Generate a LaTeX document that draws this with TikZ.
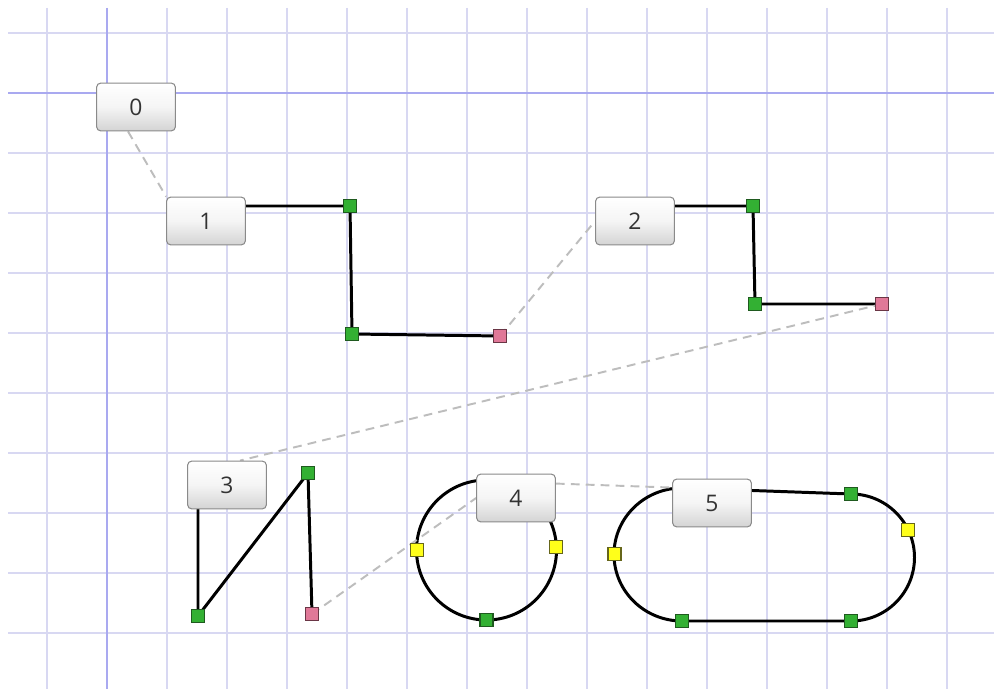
\documentclass[tikz,border=0pt]{standalone}
\usepackage{fontspec}
\setmainfont{Open Sans}
\usetikzlibrary{calc}
\pgfdeclarelayer{grid}
\pgfdeclarelayer{edges}
\pgfsetlayers{grid,edges,main}

\definecolor{gridminor}{HTML}{D8D8F2}
\definecolor{gridaxis}{HTML}{A9A9F0}
\definecolor{boxborder}{HTML}{8A8A8A}
\definecolor{boxtext}{HTML}{333333}
\definecolor{greenfill}{HTML}{33B033}
\definecolor{greenline}{HTML}{1F5A1F}
\definecolor{pinkfill}{HTML}{E07898}
\definecolor{pinkline}{HTML}{6A3646}
\definecolor{yellowfill}{HTML}{FFFF1A}
\definecolor{yellowline}{HTML}{66661A}
\definecolor{linkgray}{HTML}{BDBDBD}

\tikzset{
  label box/.style={draw=boxborder, line width=0.6pt, rounded corners=2.3pt,
    top color=white, bottom color=black!17, middle color=black!4,
    minimum width=44.8pt, minimum height=27.2pt, inner sep=0pt,
    text=boxtext, font=\fontsize{13}{15}\selectfont},
  handle/.style={draw, line width=0.6pt, minimum size=7.4pt, inner sep=0pt},
  gsq/.style={handle, fill=greenfill, draw=greenline},
  psq/.style={handle, fill=pinkfill, draw=pinkline},
  ysq/.style={handle, fill=yellowfill, draw=yellowline},
  wire/.style={draw=black, line width=1.7pt, line join=round},
  link/.style={draw=linkgray, line width=1.1pt, dash pattern=on 5pt off 3.5pt},
}

\begin{document}
\begin{tikzpicture}[x=0.02cm, y=0.02cm]
\useasboundingbox (0,0) rectangle (994,-689);

% white sheet with a grid 60 units apart, axes highlighted
\begin{pgfonlayer}{grid}
  \fill[white] (0,0) rectangle (994,-689);
  \foreach \gx in {47,167,227,...,947}
    \draw[gridminor, line width=0.6pt] (\gx,-8) -- (\gx,-689);
  \foreach \gy in {33,153,213,...,633}
    \draw[gridminor, line width=0.6pt] (8,-\gy) -- (994,-\gy);
  \draw[gridaxis, line width=1.1pt] (107,-8) -- (107,-689);
  \draw[gridaxis, line width=1.1pt] (8,-93) -- (994,-93);
\end{pgfonlayer}

% labelled boxes
\node[label box] (b0) at (136,-107) {0};
\node[label box] (b1) at (206,-221) {1};
\node[label box] (b2) at (635,-221) {2};
\node[label box] (b3) at (227,-485) {3};
\node[label box] (b4) at (516,-498) {4};
\node[label box] (b5) at (712,-503) {5};

% control points
\node[gsq] (g1a) at (350,-206) {};
\node[gsq] (g1b) at (352,-334) {};
\node[psq] (p1)  at (500,-336) {};

\node[gsq] (g2a) at (753,-206) {};
\node[gsq] (g2b) at (755,-304) {};
\node[psq] (p2)  at (882,-304) {};

\node[gsq] (g3a) at (198,-616) {};
\node[gsq] (g3b) at (308,-473) {};
\node[psq] (p3)  at (312,-614) {};

\coordinate (c4) at (486.5,-550);
\node[ysq] (y4a) at (417,-550) {};
\node[ysq] (y4b) at (556,-547) {};
\node[gsq] (g4)  at (486.5,-620) {};

\coordinate (t5) at (682,-488);
\node[gsq] (g5a) at (851,-494) {};
\node[ysq] (y5a) at (908,-530) {};
\node[gsq] (g5b) at (851,-621) {};
\node[gsq] (g5c) at (682,-621) {};
\node[ysq] (y5b) at (614.5,-554) {};

\begin{pgfonlayer}{edges}
  % shapes
  \draw[wire] (b1.east |- g1a.center) -- (g1a.center) -- (g1b.center) -- (p1.center);
  \draw[wire] (b2.east |- g2a.center) -- (g2a.center) -- (g2b.center) -- (p2.center);
  \draw[wire] (g3a.center |- b3.center) -- (g3a.center) -- (g3b.center) -- (p3.center);
  \draw[wire] (c4) circle[radius=70];
  \draw[wire] (t5) -- (g5a.center) arc[start angle=90, end angle=-90, radius=63.5]
    -- (g5c.center) arc[start angle=270, end angle=90, x radius=68, y radius=66.5] -- cycle;

  % chain of dashed links between consecutive shapes
  \draw[link] ($(b0.south)+(-8,0)$) -- (b1.north west);
  \draw[link] (p1.center) -- (b2.west);
  \draw[link] (p2.center) -- ($(b3.north)+(13,0)$);
  \draw[link] (p3.center) -- (b4.west);
  \draw[link] ($(b4.north east)+(0,-10)$) -- ($(b5.north west)+(0,-9)$);
\end{pgfonlayer}
\end{tikzpicture}
\end{document}
